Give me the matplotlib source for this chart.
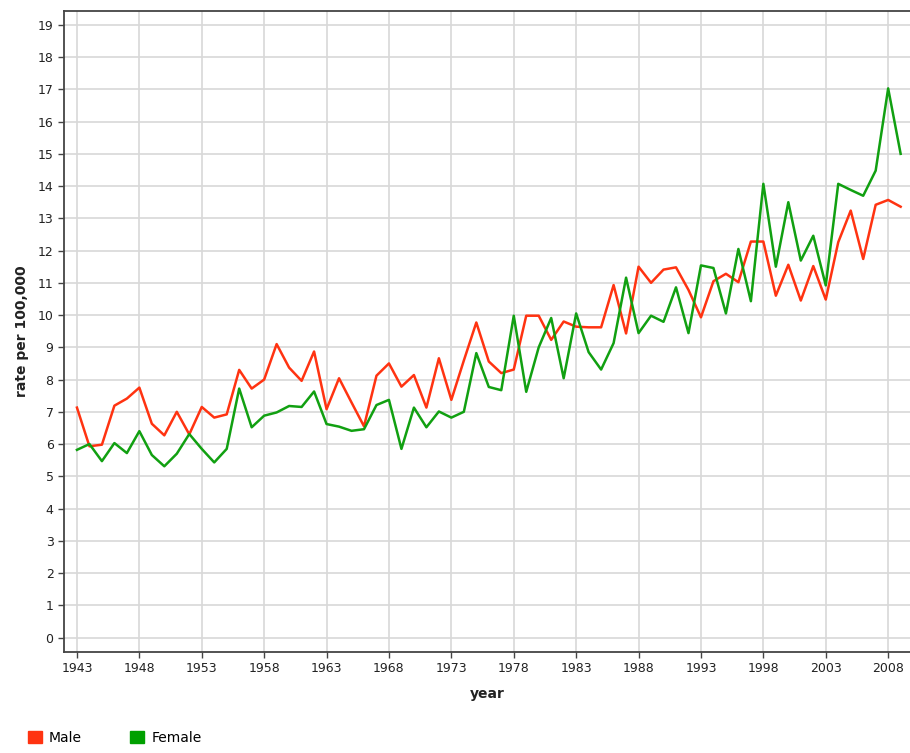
import numpy as np
import matplotlib.pyplot as plt
from matplotlib.patches import Patch

# Jahre und Raten (pro 100.000)
jahre = np.arange(1943, 2010)

male = [7.13, 5.93, 5.98, 7.19, 7.41, 7.75, 6.63, 6.27, 7.0, 6.3,
        7.15, 6.82, 6.92, 8.3, 7.72, 8.0, 9.1, 8.37, 7.96, 8.87,
        7.08, 8.04, 7.29, 6.55, 8.12, 8.5, 7.78, 8.14, 7.13, 8.66,
        7.37, 8.59, 9.77, 8.56, 8.2, 8.31, 9.98, 9.98, 9.23, 9.8,
        9.64, 9.62, 9.62, 10.93, 9.43, 11.5, 11.0, 11.41, 11.48, 10.78,
        9.93, 11.05, 11.28, 11.02, 12.28, 12.28, 10.6, 11.56, 10.45, 11.52,
        10.48, 12.26, 13.24, 11.74, 13.42, 13.57, 13.36]

female = [5.82, 6.0, 5.47, 6.03, 5.72, 6.4, 5.66, 5.31, 5.7, 6.31,
          5.85, 5.43, 5.85, 7.72, 6.52, 6.88, 6.98, 7.18, 7.15, 7.63,
          6.62, 6.54, 6.41, 6.46, 7.21, 7.37, 5.85, 7.13, 6.52, 7.01,
          6.82, 7.0, 8.82, 7.77, 7.67, 9.98, 7.62, 9.0, 9.91, 8.04,
          10.05, 8.85, 8.31, 9.13, 11.16, 9.44, 9.98, 9.79, 10.86, 9.44,
          11.54, 11.46, 10.05, 12.05, 10.43, 14.07, 11.5, 13.5, 11.69, 12.46,
          10.92, 14.07, 13.88, 13.7, 14.48, 17.03, 15.0]

xticks = np.arange(1943, 2009, 5)
yticks = np.arange(0, 20)

farbe_m = '#ff3311'
farbe_f = '#11a011'

fig = plt.figure(figsize=(9.10, 7.53), dpi=100)
ax = fig.add_axes([0.0703, 0.1341, 0.9297, 0.8513])

ax.plot(jahre, male, color=farbe_m, lw=1.8)
ax.plot(jahre, female, color=farbe_f, lw=1.8)

ax.set_xlim(1941.96, 2009.75)
ax.set_ylim(-0.45, 19.43)
ax.set_xticks(xticks)
ax.set_yticks(yticks)
ax.tick_params(labelsize=9, color='#444444', length=4, width=1,
               labelcolor='#222222')
ax.grid(True, color='#d8d8d8', lw=1.2)
ax.set_axisbelow(True)

for s in ['left', 'bottom', 'top']:
    ax.spines[s].set_color('#444444')
    ax.spines[s].set_linewidth(1.3)
ax.spines['right'].set_visible(False)

ax.set_xlabel('year', fontsize=10, fontweight='bold', labelpad=8, color='#222222')
ax.set_ylabel('rate per 100,000', fontsize=10, fontweight='bold', labelpad=6, color='#222222')

handles = [Patch(color=farbe_m, label='Male'), Patch(color='#00a000', label='Female')]
fig.legend(handles=handles, loc='lower left', bbox_to_anchor=(0.017, -0.006),
           ncol=2, frameon=False, fontsize=10, handlelength=1.0, handleheight=1.0,
           handletextpad=0.5, columnspacing=3.5)

fig.savefig('out.png', dpi=100)
